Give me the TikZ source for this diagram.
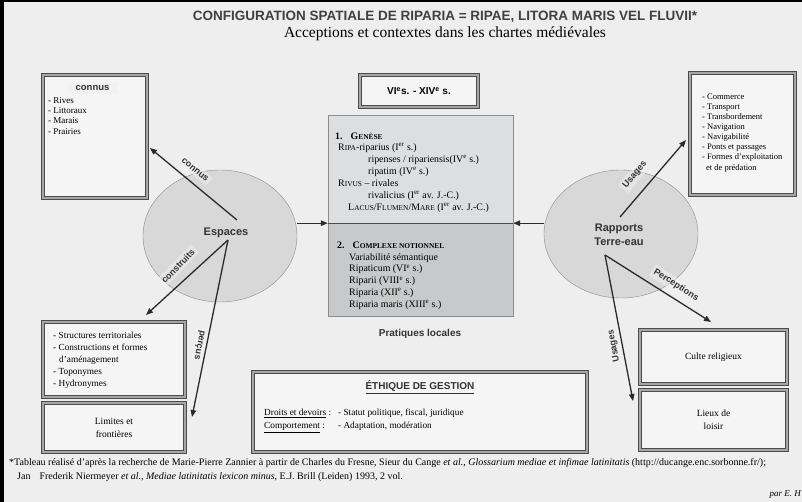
\documentclass[tikz,border=0pt]{standalone}
\usepackage{fontspec}
\setmainfont{Liberation Serif}
\setsansfont{Liberation Sans}
\usepackage{tikz}
\usetikzlibrary{
    calc,
    positioning,
    arrows.meta,
    shapes
}
\definecolor{paper}{HTML}{EEEEEE}
\definecolor{ink}{HTML}{2B2B2B}
\definecolor{zonefill}{HTML}{D8D8D8}
\definecolor{genesefill}{HTML}{DCDEE0}
\definecolor{complexefill}{HTML}{C8C9CA}
\tikzset{
    link/.style = {
        draw = ink,
        line width = 1.3pt,
        -{Triangle[length=7pt, width=5.5pt]}
    },
    % Framed box:
    frame box/.style = {
        rectangle,
        draw = black!70,
        line width = 0.7pt,
        double = black!35,
        double distance = 2pt,
        fill = white!40!paper,
        inner sep = 0pt
    },
    % Zone ellipse:
    zone node/.style = {
        ellipse,
        draw = black!45,
        fill = zonefill,
        inner sep = 0pt
    },
    % Label of an arrow:
    arrow tag/.style = {
        font = \sffamily\bfseries\fontsize{9}{10}\selectfont,
        text = black!80,
        fill = black!6,
        fill opacity = 0.5,
        text opacity = 1,
        inner sep = 2.5pt
    },
    % Left-aligned list:
    list/.style = {
        anchor = north west,
        align = left,
        inner sep = 0pt
    }
}
\newcommand{\petit}[1]{{\fontsize{7.4}{7.4}\selectfont #1}}
\newcommand{\ex}[1]{\textsuperscript{#1}}

\begin{document}
\begin{tikzpicture}[x=1pt, y=-1pt]
    \useasboundingbox (0, 0) rectangle (802, 502);
    \fill [paper] (0, 0) rectangle (802, 502);
    % Scan edges
    \fill [black] (0, 0) rectangle (4, 502);
    \fill [black] (0, 0) rectangle (802, 2.5);
    % Heading
    \node (title) [font=\sffamily\bfseries\fontsize{13.5}{15}\selectfont, text=black!75] at (445, 17) {CONFIGURATION SPATIALE DE RIPARIA = RIPAE, LITORA MARIS VEL FLUVII*};
    \node (subtitle) [font=\fontsize{15.5}{17}\selectfont] at (445, 34) {Acceptions et contextes dans les chartes médiévales};
    % Zones
    \node (espaces) [zone node, minimum width=154pt, minimum height=132pt] at (220, 236) {};
    \node (rapports) [zone node, minimum width=154pt, minimum height=128pt] at (621, 234) {};
    \node (espacestext) [font=\sffamily\bfseries\fontsize{11}{13}\selectfont, text=black!80] at (226, 233) {Espaces};
    \node (rapportstext) [font=\sffamily\bfseries\fontsize{11}{14}\selectfont, text=black!80, align=center] at (619, 235) {Rapports\\Terre-eau};
    % Middle column
    \node (periode) [frame box, minimum width=118pt, minimum height=32pt, font=\sffamily\bfseries\fontsize{10}{12}\selectfont] at (419, 91) {VI\ex{e}s. - XIV\ex{e} s.};
    \node (genese) [draw=black!45, fill=genesefill, minimum width=185pt, minimum height=108pt] at (420.5, 169) {};
    \node (complexe) [draw=black!45, fill=complexefill, minimum width=185pt, minimum height=93pt, anchor=north] at (genese.south) {};
    \draw [black!70, line width=1pt] (genese.south west) -- (genese.south east);
    \node (genesetext) [list, font=\fontsize{9.9}{12}\selectfont] at (335, 132.5) {%
        \textbf{1.\hspace{8pt}G\petit{ENÈSE}}\\[-1pt]
        \hspace*{3pt}R\petit{IPA}-riparius (I\ex{er} s.)\\
        \hspace*{33pt}ripenses / ripariensis(IV\ex{e} s.)\\
        \hspace*{33pt}ripatim (IV\ex{e} s.)\\
        \hspace*{3pt}R\petit{IVUS} -- rivales\\
        \hspace*{33pt}rivalicius (I\ex{er} av. J.-C.)\\
        \hspace*{13pt}L\petit{ACUS}/F\petit{LUMEN}/M\petit{ARE} (I\ex{er} av. J.-C.)};
    \node (complexetext) [list, font=\fontsize{9.9}{11.8}\selectfont] at (337, 241.5) {%
        \textbf{2.\hspace{8pt}C\petit{OMPLEXE NOTIONNEL}}\\
        \hspace*{12pt}Variabilité sémantique\\
        \hspace*{12pt}Ripaticum (VI\ex{e} s.)\\
        \hspace*{12pt}Riparii (VIII\ex{e} s.)\\
        \hspace*{12pt}Riparia (XII\ex{e} s.)\\
        \hspace*{12pt}Riparia maris (XIII\ex{e} s.)};
    \node (pratiques) [font=\sffamily\bfseries\fontsize{10}{12}\selectfont, text=black!80] at (420, 334) {Pratiques locales};
    \node (ethique) [frame box, minimum width=334pt, minimum height=80pt] at (420, 412) {};
    \node (ethiquetitle) [font=\sffamily\bfseries\fontsize{10}{12}\selectfont, text=black!80] at (420, 387) {\underline{ÉTHIQUE DE GESTION}};
    \node (ethiquetext) [list, font=\fontsize{9.3}{13}\selectfont] at (264, 406.5) {%
        \begin{tabular}{@{}l@{\hspace{7pt}}l@{}}
            \underline{Droits et devoirs} : & - Statut politique, fiscal, juridique\\
            \underline{Comportement} : & - Adaptation, modération
        \end{tabular}};
    % Left boxes
    \node (connusbox) [frame box, minimum width=104pt, minimum height=123pt] at (95, 136.5) {};
    \node (connushead) [font=\sffamily\bfseries\fontsize{9.5}{11}\selectfont, text=black!80, fill=black!5, inner xsep=8pt] at (92.5, 88) {connus};
    \node (connuslist) [list, font=\fontsize{9}{10.3}\selectfont] at (48, 97) {- Rives\\- Littoraux\\- Marais\\- Prairies};
    \node (structbox) [frame box, minimum width=142pt, minimum height=75pt] at (114, 359.5) {};
    \node (structlist) [list, font=\fontsize{9.3}{12.2}\selectfont] at (53, 331.5) {- Structures territoriales\\- Constructions et formes\\\hspace*{6pt}d’aménagement\\- Toponymes\\- Hydronymes};
    \node (limitesbox) [frame box, minimum width=142pt, minimum height=49pt, font=\fontsize{9.5}{13}\selectfont, align=center] at (114, 427.5) {Limites et\\frontières};
    % Right boxes
    \node (usagesbox) [frame box, minimum width=105pt, minimum height=122pt] at (742.5, 134) {};
    \node (usageslist) [list, font=\fontsize{8.5}{10.1}\selectfont] at (702, 93.5) {- Commerce\\- Transport\\- Transbordement\\- Navigation\\- Navigabilité\\- Ponts et passages\\- Formes d’exploitation\\\hspace*{4pt}et de prédation};
    \node (cultebox) [frame box, minimum width=147pt, minimum height=54pt, font=\fontsize{9.5}{13}\selectfont] at (713.5, 357) {Culte religieux};
    \node (loisirbox) [frame box, minimum width=147pt, minimum height=60pt, font=\fontsize{9.5}{13}\selectfont, align=center] at (713.5, 420) {Lieux de\\loisir};
    % Arrow ends
    \coordinate (espaceshaut) at (237, 220);
    \coordinate (espacesbas) at (228, 240);
    \coordinate (rapportshaut) at (620, 217);
    \coordinate (rapportsbas) at (605, 255);
    \coordinate (connustip) at (150, 148);
    \coordinate (construitstip) at (146, 315);
    \coordinate (percustip) at (192, 417);
    \coordinate (usagestip) at (686, 140);
    \coordinate (perceptionstip) at (711, 322);
    \coordinate (loisirtip) at (633, 401);
    \draw [link] (espaces.east |- genese.south) -- (genese.south west);
    \draw [link] (rapports.west |- genese.south) -- (genese.south east);
    \draw [link] (espaceshaut) -- (connustip);
    \draw [link] (espacesbas) -- (construitstip);
    \draw [link] (espacesbas) -- (percustip);
    \draw [link] (rapportshaut) -- (usagestip);
    \draw [link] (rapportsbas) -- (perceptionstip);
    \draw [link] (rapportsbas) -- (loisirtip);
    % Arrow labels
    \node (connustag) [arrow tag, rotate=-39] at (195, 170) {connus};
    \node (construitstag) [arrow tag, rotate=46] at (178, 266) {construits};
    \node (percustag) [arrow tag, rotate=-101.5] at (199, 345) {perçus};
    \node (usagestag) [arrow tag, rotate=50] at (635, 175) {Usages};
    \node (perceptionstag) [arrow tag, rotate=-32.5] at (676, 285) {Perceptions};
    \node (loisirtag) [arrow tag, rotate=101] at (614, 346) {Usages};
    % Footnote
    \node (note) [anchor=base west, inner sep=0pt, font=\fontsize{10}{12}\selectfont] at (9, 465) {*Tableau réalisé d’après la recherche de Marie-Pierre Zannier à partir de Charles du Fresne, Sieur du Cange \textit{et al.}, \textit{Glossarium mediae et infimae latinitatis} (http://ducange.enc.sorbonne.fr/);};
    \node (notesuite) [anchor=base west, inner sep=0pt, font=\fontsize{10}{12}\selectfont] at (17, 479) {Jan\hspace{9pt}Frederik Niermeyer \textit{et al.}, \textit{Mediae latinitatis lexicon minus}, E.J. Brill (Leiden) 1993, 2 vol.};
    \node (signature) [anchor=base east, inner sep=0pt, font=\itshape\fontsize{9}{11}\selectfont] at (801, 496) {par E. H};
\end{tikzpicture}
\end{document}
